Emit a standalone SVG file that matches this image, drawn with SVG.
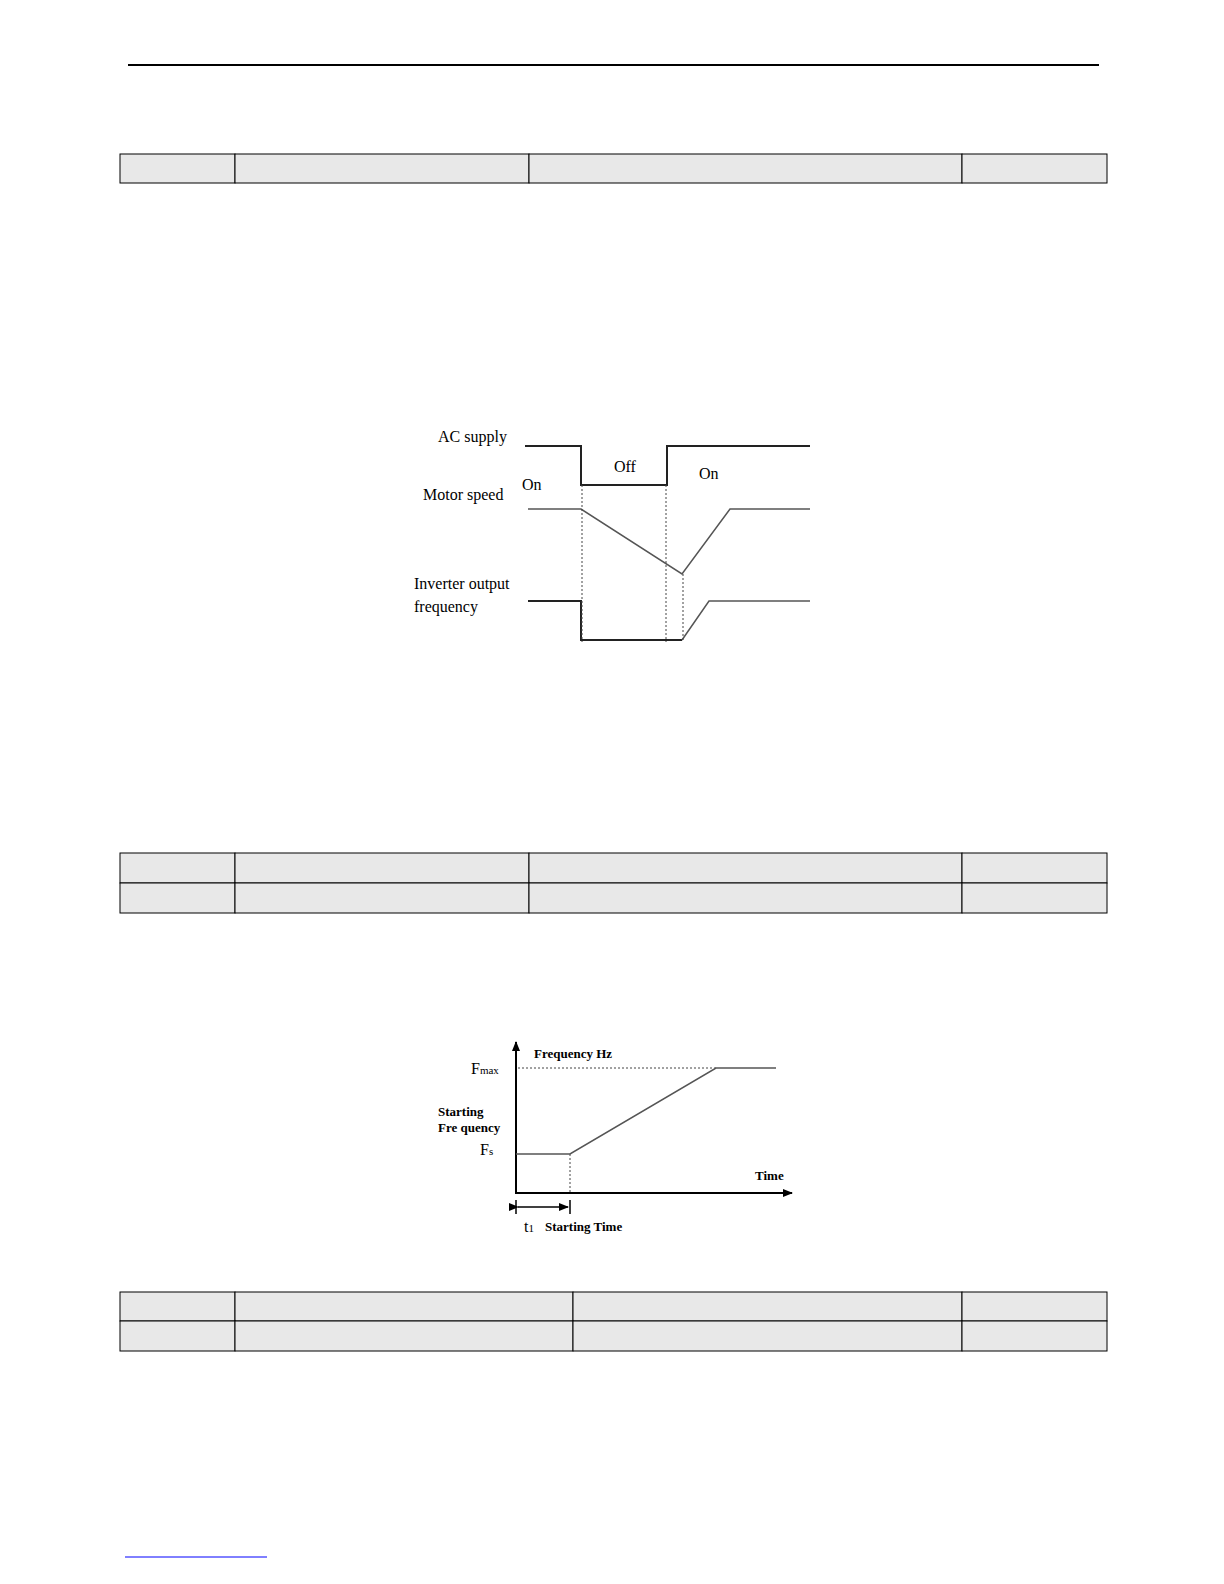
<svg xmlns="http://www.w3.org/2000/svg" width="1224" height="1584" viewBox="0 0 1224 1584">
<style>
.c{fill:#e8e8e8;stroke:#000;stroke-width:1}
.t{font-family:"Liberation Serif",serif;font-size:16px;fill:#000}
.s{font-family:"Liberation Serif",serif;font-size:13px;font-weight:bold;fill:#000}
.w{fill:none;stroke:#222;stroke-width:2}
.g{fill:none;stroke:#555;stroke-width:1.5}
.d{fill:none;stroke:#444;stroke-width:1;stroke-dasharray:2,2}
</style>
<defs><marker id="a" markerWidth="10" markerHeight="8" refX="9" refY="4" orient="auto" markerUnits="userSpaceOnUse"><path d="M0,0L10,4L0,8z" fill="#000"/></marker></defs>
<rect width="1224" height="1584" fill="#fff"/>
<line x1="128" y1="65" x2="1099" y2="65" stroke="#000" stroke-width="2"/>
<g id="table1"><rect class="c" x="120" y="154" width="115" height="29"/><rect class="c" x="235" y="154" width="294" height="29"/><rect class="c" x="529" y="154" width="433" height="29"/><rect class="c" x="962" y="154" width="145" height="29"/></g>
<g id="table2">
<rect class="c" x="120" y="853" width="115" height="30"/><rect class="c" x="235" y="853" width="294" height="30"/><rect class="c" x="529" y="853" width="433" height="30"/><rect class="c" x="962" y="853" width="145" height="30"/>
<rect class="c" x="120" y="883" width="115" height="30"/><rect class="c" x="235" y="883" width="294" height="30"/><rect class="c" x="529" y="883" width="433" height="30"/><rect class="c" x="962" y="883" width="145" height="30"/></g>
<g id="table3">
<rect class="c" x="120" y="1292" width="115" height="29"/><rect class="c" x="235" y="1292" width="338" height="29"/><rect class="c" x="573" y="1292" width="389" height="29"/><rect class="c" x="962" y="1292" width="145" height="29"/>
<rect class="c" x="120" y="1321" width="115" height="30"/><rect class="c" x="235" y="1321" width="338" height="30"/><rect class="c" x="573" y="1321" width="389" height="30"/><rect class="c" x="962" y="1321" width="145" height="30"/></g>
<g id="diagram1">
<text class="t" x="438" y="442">AC supply</text>
<text class="t" x="423" y="500">Motor speed</text>
<text class="t" x="522" y="490">On</text>
<text class="t" x="614" y="472">Off</text>
<text class="t" x="699" y="479">On</text>
<text class="t" x="414" y="589">Inverter output</text>
<text class="t" x="414" y="612">frequency</text>
<path class="w" d="M525,446H581V485H667V446H810"/>
<path class="g" d="M528,509H581L682,574L730,509H810"/>
<path class="w" d="M528,601H581V640H682"/>
<path class="g" d="M682,640L709,601H810"/>
<path class="d" d="M582,485V642M666,485V642M683,574V642"/>
</g>
<g id="diagram2">
<line x1="516" y1="1194" x2="516" y2="1042" stroke="#000" stroke-width="2" marker-end="url(#a)"/>
<line x1="516" y1="1193" x2="792" y2="1193" stroke="#000" stroke-width="2" marker-end="url(#a)"/>
<text class="s" x="534" y="1058">Frequency Hz</text>
<text class="t" x="471" y="1074">F<tspan font-size="11">max</tspan></text>
<text class="s" x="438" y="1116">Starting</text>
<text class="s" x="438" y="1132">Fre quency</text>
<text class="t" x="480" y="1155">F<tspan font-size="11">s</tspan></text>
<text class="s" x="755" y="1180">Time</text>
<path class="d" d="M518,1068H716M570,1154V1193"/>
<path class="g" d="M516,1154H570L716,1068H776"/>
<path d="M516,1200V1214M570,1200V1214" stroke="#000" stroke-width="1.5"/>
<line x1="518" y1="1207" x2="568" y2="1207" stroke="#000" stroke-width="1.5" marker-start="url(#a)" marker-end="url(#a)"/>
<text class="t" x="524" y="1232">t<tspan font-size="11">1</tspan></text>
<text class="s" x="545" y="1231">Starting Time</text>
</g>
<line x1="125" y1="1557" x2="267" y2="1557" stroke="#00f" stroke-width="1"/>
</svg>
